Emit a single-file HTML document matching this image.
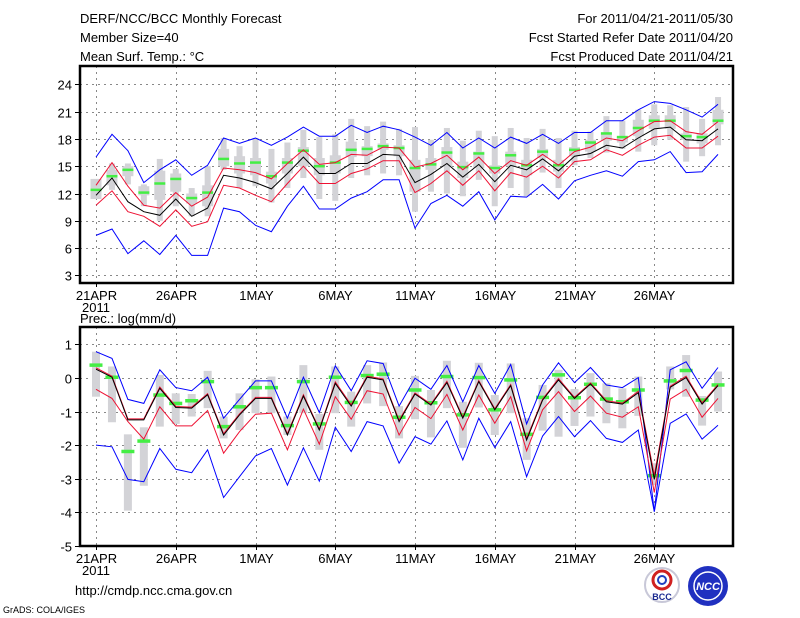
<!DOCTYPE html>
<html><head><meta charset="utf-8"><style>
html,body{margin:0;padding:0;background:#fff;}
svg{display:block;font-family:"Liberation Sans",sans-serif;}
</style></head><body>
<svg id="c" width="800" height="618" xmlns="http://www.w3.org/2000/svg">
<g font-size="13" fill="#000">
<text x="80" y="23">DERF/NCC/BCC Monthly Forecast</text>
<text x="80" y="42">Member Size=40</text>
<text x="80" y="61">Mean Surf. Temp.: °C</text>
</g>
<g font-size="13" fill="#000" text-anchor="end">
<text x="733" y="23">For 2011/04/21-2011/05/30</text>
<text x="733" y="42">Fcst Started Refer Date 2011/04/20</text>
<text x="733" y="61">Fcst Produced Date 2011/04/21</text>
</g>
<text x="80" y="323" font-size="13">Prec.: log(mm/d)</text>
<text x="75" y="595" font-size="13">http://cmdp.ncc.cma.gov.cn</text>
<text x="3" y="613" font-size="9">GrADS: COLA/IGES</text>
<g>
<circle cx="662" cy="585" r="17" fill="#fff" stroke="#c8c8d8" stroke-width="2"/>
<circle cx="662" cy="580" r="9" fill="none" stroke="#d02020" stroke-width="3"/>
<circle cx="662" cy="580" r="4" fill="none" stroke="#2040c0" stroke-width="2"/>
<text x="662" y="600" font-size="9" font-weight="bold" text-anchor="middle" fill="#1a2a90">BCC</text>
</g>
<g>
<circle cx="708" cy="586" r="20" fill="#2030c0"/>
<circle cx="708" cy="586" r="14" fill="none" stroke="#fff" stroke-width="1.5"/>
<text x="708" y="590" font-size="11" font-weight="bold" font-style="italic" text-anchor="middle" fill="#fff">NCC</text>
</g>
<g id="topPanel"></g>
<g id="botPanel"></g>
</svg>
<script>
// ---- Temperature panel data ----
const dateLabels = ["21APR","26APR","1MAY","6MAY","11MAY","16MAY","21MAY","26MAY"];
const tTicks = [3,6,9,12,15,18,21,24];
const tMax = [16.0,18.5,16.7,13.2,14.6,15.7,14.0,15.1,18.1,17.5,18.1,17.3,18.2,19.3,18.3,18.3,19.5,18.7,19.4,19.0,18.2,17.3,18.7,17.0,18.1,17.0,18.2,17.5,18.5,17.5,18.7,18.7,20.0,20.0,21.2,22.1,21.9,21.2,20.4,21.8];
const tMin = [7.4,8.1,5.4,6.8,5.3,7.4,5.2,5.2,10.4,10.0,8.5,7.8,10.6,12.8,10.3,10.3,11.5,12.2,13.5,13.5,8.2,10.9,11.8,10.6,12.2,9.1,11.7,11.6,13.0,11.4,13.4,14.0,14.5,13.9,15.5,15.7,16.6,14.3,14.4,16.3];
const tMean = [11.8,13.7,11.1,10.0,9.6,11.4,9.5,10.4,14.0,13.7,13.2,12.5,14.2,16.0,14.2,14.2,15.3,15.3,16.3,16.2,13.2,14.1,15.3,13.8,15.2,13.3,15.1,14.6,15.8,14.5,16.1,16.4,17.3,17.0,18.1,19.1,19.3,17.9,17.8,19.1];
const tUp = [12.9,15.4,12.8,10.7,10.4,12.1,10.6,11.6,14.8,14.6,14.3,13.6,15.3,16.8,15.2,15.4,16.3,16.2,17.1,17.0,14.9,15.3,16.2,14.6,16.0,14.2,15.6,15.1,16.3,15.1,16.6,17.1,18.1,17.8,18.9,19.9,20.0,18.8,18.5,19.9];
const tLo = [10.7,12.3,10.0,9.5,8.4,10.2,8.4,8.9,12.9,12.6,11.8,11.1,13.1,15.0,13.1,13.1,14.2,14.7,15.6,15.6,12.1,13.1,14.5,12.9,14.5,12.3,14.3,13.8,15.0,13.7,15.5,15.7,16.8,16.2,17.3,18.2,18.4,17.0,17.0,18.3];
const tObs = [12.4,13.9,14.6,12.1,13.1,13.6,11.5,12.1,15.8,15.3,15.4,13.9,15.4,16.7,15.0,15.4,16.8,16.9,17.2,17.0,14.8,15.2,16.5,14.9,16.4,14.8,16.2,15.1,16.6,15.1,16.8,17.6,18.6,18.2,19.2,20.0,20.0,18.3,18.2,20.0];
const tRangeHi = [13.6,15.3,15.3,13.0,15.8,14.7,12.6,15.0,18.1,17.2,18.1,16.9,17.6,19.0,18.2,18.5,20.2,19.4,19.9,19.1,19.3,17.9,19.2,17.8,18.9,18.3,19.2,18.1,19.1,18.1,18.9,18.8,20.5,20.0,21.2,21.8,21.7,21.5,20.2,22.6];
const tRangeLo = [11.4,12.4,13.0,10.6,9.0,10.6,9.5,9.5,14.6,12.6,12.8,11.0,12.6,13.7,11.4,11.2,13.7,14.0,14.2,14.0,10.0,12.2,12.0,11.7,13.5,10.6,12.6,11.7,14.3,12.6,15.1,15.9,16.5,16.9,16.6,17.3,17.9,15.5,16.1,17.3];
const tBoxHi = [13.6,14.6,15.0,12.8,14.5,14.2,12.0,12.9,16.9,16.1,15.9,14.4,15.9,17.1,15.9,16.2,17.7,17.2,17.5,17.3,15.7,15.9,17.1,15.5,16.6,15.1,16.6,15.7,16.9,15.7,17.1,17.9,18.6,18.2,20.1,20.6,20.6,18.6,18.6,21.2];
const tBoxLo = [11.4,12.9,13.9,11.8,11.3,12.2,10.9,10.6,15.0,14.2,14.0,13.1,14.2,15.0,14.0,14.2,16.0,16.1,16.8,16.1,12.2,14.6,15.0,13.7,14.8,14.2,15.0,14.0,15.9,14.4,16.1,16.6,17.8,17.6,18.3,19.1,19.1,17.9,17.5,19.6];
// ---- Precipitation panel data ----
const pTicks = [-5,-4,-3,-2,-1,0,1];
const pMax = [0.78,0.58,-0.64,-0.76,0.24,-0.29,-0.38,0.02,-1.2,-0.64,-0.09,-0.09,-1.2,0.02,-1.03,0.36,-0.38,0.51,0.43,-0.84,-0.01,-0.34,0.37,-0.71,0.37,-0.46,0.40,-1.37,-0.21,0.45,-0.14,0.31,-0.21,-0.29,0.01,-3.98,0.24,0.48,-0.31,0.31];
const pMin = [-2.0,-2.05,-3.02,-3.09,-2.1,-2.72,-2.82,-2.14,-3.56,-2.94,-2.32,-2.1,-3.19,-2.08,-3.07,-1.47,-2.19,-1.3,-1.43,-2.54,-1.75,-1.97,-1.28,-2.44,-1.2,-2.07,-1.3,-2.94,-1.73,-1.15,-1.75,-1.27,-1.8,-1.92,-1.55,-3.98,-1.35,-1.07,-1.82,-1.41];
const pMean = [0.26,0.02,-1.25,-1.25,-0.31,-0.88,-0.9,-0.5,-1.7,-1.1,-0.61,-0.61,-1.7,-0.54,-1.55,-0.16,-0.84,0.02,-0.06,-1.3,-0.48,-0.81,-0.14,-1.2,-0.11,-0.95,-0.23,-1.85,-0.66,-0.06,-0.61,-0.18,-0.71,-0.78,-0.44,-3.02,-0.28,0.01,-0.78,-0.23];
const pUp = [0.3,0.05,-1.22,-1.22,-0.27,-0.85,-0.87,-0.47,-1.66,-1.07,-0.58,-0.58,-1.66,-0.5,-1.52,-0.12,-0.8,0.05,-0.03,-1.26,-0.45,-0.78,-0.1,-1.16,-0.08,-0.92,-0.2,-1.8,-0.63,-0.02,-0.58,-0.15,-0.68,-0.75,-0.4,-2.9,-0.25,0.05,-0.74,-0.2];
const pLo = [-0.34,-0.61,-1.3,-1.82,-0.86,-1.43,-1.43,-0.97,-2.24,-1.6,-1.08,-1.05,-2.14,-0.93,-1.97,-0.56,-1.23,-0.38,-0.48,-1.7,-0.88,-1.21,-0.49,-1.55,-0.51,-1.35,-0.56,-2.17,-0.95,-0.41,-1.0,-0.54,-1.05,-1.17,-0.86,-3.41,-0.63,-0.34,-1.17,-0.61];
const pObs = [0.38,0.02,-2.19,-1.88,-0.51,-0.76,-0.68,-0.11,-1.45,-0.86,-0.29,-0.29,-1.42,-0.11,-1.37,0.02,-0.73,0.07,0.11,-1.17,-0.36,-0.74,0.04,-1.1,0.01,-0.95,-0.06,-1.68,-0.58,0.09,-0.59,-0.19,-0.63,-0.71,-0.36,-2.91,-0.09,0.22,-0.66,-0.21];
const pRangeHi = [0.78,0.34,-1.68,-1.47,0.09,-0.46,-0.48,0.21,-1.15,-0.46,-0.04,0.04,-1.15,0.38,-1.07,0.34,-0.41,0.38,0.46,-0.84,0.06,-0.36,0.51,-0.71,0.45,-0.51,0.43,-1.2,-0.21,0.24,-0.33,0.14,-0.16,-0.31,0.04,-2.54,0.34,0.68,-0.54,0.19];
const pRangeLo = [-0.56,-1.32,-3.95,-3.21,-1.45,-1.37,-1.15,-0.9,-1.8,-1.55,-1.05,-1.05,-1.7,-1.05,-2.14,-1.05,-1.45,-0.76,-0.84,-1.8,-1.23,-1.77,-0.9,-2.08,-0.88,-1.7,-1.05,-2.44,-1.57,-1.75,-1.43,-1.15,-1.35,-1.5,-1.13,-3.19,-0.34,-0.56,-1.42,-1.0];

const NS="http://www.w3.org/2000/svg";
function mk(parent, tag, attrs){const e=document.createElementNS(NS,tag);for(const k in attrs)e.setAttribute(k,attrs[k]);parent.appendChild(e);return e;}
function xDay(d){return 96+d*15.95;}

function panel(g, cfg){
  const {L,R,T,B,yOf,ticks,prefix}=cfg;
  for(let i=0;i<dateLabels.length;i++){
    const x=Math.round(xDay(i*5))+0.5;
    const ln=mk(g,'line',{x1:x,x2:x,y1:T,y2:B,stroke:'#888','stroke-width':1,'stroke-dasharray':'2,4'});
    
    
    const t=mk(g,'text',{x:x,y:B+17,'font-size':13,'text-anchor':'middle'});
    t.textContent=dateLabels[i];
    
    
    mk(g,'line',{x1:x,x2:x,y1:B,y2:B+4,stroke:'#000'});
  }
  const yr=mk(g,'text',{x:xDay(0),y:B+29,'font-size':13,'text-anchor':'middle'});
  yr.textContent='2011';
  
  
  ticks.forEach(v=>{
    const y=Math.round(yOf(v))+0.5;
    if(y>T+2&&y<B-2){
      const ln=mk(g,'line',{x1:L,x2:R,y1:y,y2:y,stroke:'#888','stroke-width':1,'stroke-dasharray':'2,4'});
      
      
    }
    mk(g,'line',{x1:L-5,x2:L,y1:y,y2:y,stroke:'#000'});
    const t=mk(g,'text',{x:L-8,y:y+5,'font-size':13,'text-anchor':'end'});
    t.textContent=String(v);
    
    
  });
}
function bars(g, hi, lo, yOf, w, name){
  hi.forEach((h,d)=>{
    const y1=yOf(h), y2=yOf(lo[d]);
    const r=mk(g,'rect',{x:xDay(d)-w/2,y:y1,width:w,height:Math.max(1,y2-y1),fill:'#d3d3d7'});
    
    
  });
}
function ticksObs(g, vals, yOf, w, h, name){
  vals.forEach((v,d)=>{
    const r=mk(g,'rect',{x:xDay(d)-w/2,y:yOf(v)-h/2,width:w,height:h,fill:'#44ee44'});
    
    
  });
}
function line(g, vals, yOf, color, name){
  const pts=vals.map((v,d)=>xDay(d).toFixed(1)+','+yOf(v).toFixed(1)).join(' ');
  const p=mk(g,'polyline',{points:pts,fill:'none',stroke:color,'stroke-width':1});
  
  
}
function frame(g,L,R,T,B,name){
  const r=mk(g,'rect',{x:L,y:T,width:R-L,height:B-T,fill:'none',stroke:'#000','stroke-width':2.5});
  
  
}

const topG=document.getElementById('topPanel');
const yT=v=>84.3+(24-v)*9.1;
panel(topG,{L:80,R:733,T:66,B:283,yOf:yT,ticks:tTicks,prefix:'temp'});
bars(topG,tRangeHi,tRangeLo,yT,6,'temp-range-bar');
bars(topG,tBoxHi,tBoxLo,yT,11,'temp-iqr-box');
ticksObs(topG,tObs,yT,11,2.5,'temp-observed-mark');
line(topG,tMax,yT,'#0000ff','temp-max-line');
line(topG,tMin,yT,'#0000ff','temp-min-line');
line(topG,tUp,yT,'#ee1133','temp-upper-line');
line(topG,tLo,yT,'#ee1133','temp-lower-line');
line(topG,tMean,yT,'#000000','temp-mean-line');
frame(topG,80,733,66,283,'temp-frame');

const botG=document.getElementById('botPanel');
const yB=v=>344.3+(1-v)*33.6;
panel(botG,{L:80,R:733,T:327,B:546,yOf:yB,ticks:pTicks,prefix:'precip'});
bars(botG,pRangeHi,pRangeLo,yB,8,'precip-range-bar');
ticksObs(botG,pObs,yB,13,3.5,'precip-observed-mark');
line(botG,pMax,yB,'#0000ff','precip-max-line');
line(botG,pMin,yB,'#0000ff','precip-min-line');
line(botG,pUp,yB,'#ee1133','precip-upper-line');
line(botG,pLo,yB,'#ee1133','precip-lower-line');
line(botG,pMean,yB,'#000000','precip-mean-line');
frame(botG,80,733,327,546,'precip-frame');
</script>
</body></html>
